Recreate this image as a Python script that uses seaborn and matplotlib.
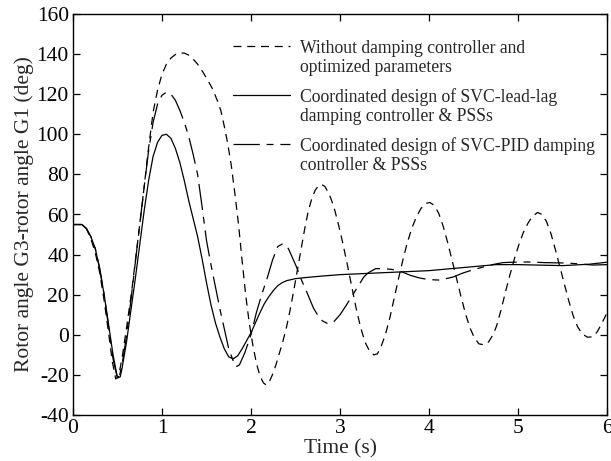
import matplotlib
matplotlib.use("Agg")
import matplotlib.pyplot as plt
import seaborn as sns
import numpy as np
import pandas as pd
from matplotlib.legend_handler import HandlerLine2D

# ---- data ----
t_without = [0.00, 0.10, 0.15, 0.20, 0.25, 0.30, 0.35, 0.40, 0.44, 0.48, 0.51, 0.55, 0.60, 0.66, 0.72,
             0.78, 0.84, 0.90, 0.95, 1.00, 1.05, 1.10, 1.15, 1.20, 1.25, 1.30, 1.35, 1.40, 1.46, 1.52,
             1.57, 1.62, 1.66, 1.70, 1.74, 1.78, 1.82, 1.86, 1.90, 1.94, 1.98, 2.02, 2.06, 2.10, 2.14,
             2.17, 2.20, 2.24, 2.28, 2.32, 2.36, 2.40, 2.44, 2.48, 2.52, 2.56, 2.60, 2.64, 2.68, 2.72,
             2.76, 2.79, 2.83, 2.88, 2.93, 2.98, 3.03, 3.08, 3.13, 3.18, 3.23, 3.28, 3.33, 3.38, 3.42,
             3.46, 3.51, 3.56, 3.61, 3.66, 3.71, 3.76, 3.81, 3.86, 3.91, 3.96, 4.01, 4.06, 4.11, 4.16,
             4.21, 4.26, 4.31, 4.36, 4.41, 4.46, 4.51, 4.56, 4.62, 4.67, 4.72, 4.76, 4.81, 4.86, 4.91,
             4.96, 5.01, 5.06, 5.11, 5.16, 5.22, 5.27, 5.32, 5.37, 5.42, 5.47, 5.52, 5.57, 5.62, 5.67,
             5.72, 5.78, 5.84, 5.89, 5.94, 6.00]
v_without = [55, 55, 53, 48, 41, 31, 17, 1, -13, -22, -21, -12, 3, 22, 44,
             66, 90, 111, 122, 130, 135, 138, 139.8, 140.5, 140.5, 139.5, 137.5, 135, 131, 126.5,
             122.5, 117, 112, 104, 95, 84, 70, 55, 37, 20, 6, -5, -14, -20.5, -24,
             -25, -24, -20, -15, -9, -3, 4, 12.5, 22, 32, 42, 52, 61, 67.5, 72,
             74.5, 75, 74, 70, 64, 55.5, 46, 35.5, 24.5, 13.5, 4, -3.5, -8, -10, -9.5,
             -6, 0, 8.5, 18.5, 28.5, 38, 46.5, 53.5, 59, 63, 65.5, 66, 64.5, 60.5, 54,
             46, 37, 28, 19, 10.5, 3.5, -1.5, -4.5, -5, -3.5, 0, 4.5, 12.5, 21.5, 30,
             38, 45, 51, 55.5, 59, 61, 60, 56.5, 50.5, 42.5, 34, 25.5, 17, 9.5, 4,
             0.5, -1.2, -1, 1.5, 5.5, 11]

t_leadlag = [0.00, 0.10, 0.15, 0.20, 0.25, 0.30, 0.35, 0.40, 0.45, 0.50, 0.53, 0.55, 0.60, 0.65, 0.70,
             0.75, 0.80, 0.85, 0.90, 0.95, 1.00, 1.05, 1.10, 1.15, 1.20, 1.25, 1.30, 1.35, 1.40, 1.45,
             1.50, 1.55, 1.60, 1.65, 1.70, 1.75, 1.80, 1.85, 1.90, 1.95, 2.00, 2.05, 2.10, 2.15, 2.20,
             2.25, 2.30, 2.35, 2.40, 2.50, 2.60, 2.80, 3.00, 3.50, 4.00, 4.50, 4.75, 5.00, 5.50, 5.80,
             6.00]
v_leadlag = [55, 55, 53, 49, 43, 33, 20, 5, -10, -21.5, -21, -17, -4, 12, 28,
             45, 62, 77, 89, 96, 99.5, 100, 98, 93, 86, 77, 67, 58, 49, 38,
             26, 15, 6, -1, -7, -11, -12, -10.5, -7, -3, 1, 6, 11, 15.5, 19,
             22, 24.5, 26, 27, 28, 28.5, 29.3, 30, 31, 32, 34, 35, 35, 34.5, 35.2,
             36.2]

t_pid = [0.00, 0.10, 0.15, 0.20, 0.25, 0.30, 0.35, 0.40, 0.45, 0.50, 0.52, 0.55, 0.60, 0.65, 0.70,
         0.75, 0.80, 0.85, 0.90, 0.95, 1.00, 1.05, 1.10, 1.15, 1.20, 1.25, 1.30, 1.35, 1.40, 1.45,
         1.50, 1.55, 1.60, 1.65, 1.70, 1.75, 1.80, 1.83, 1.87, 1.93, 2.00, 2.06, 2.12, 2.18, 2.24,
         2.30, 2.36, 2.42, 2.51, 2.57, 2.63, 2.70, 2.74, 2.80, 2.87, 2.93, 3.00, 3.06, 3.13, 3.20,
         3.27, 3.32, 3.40, 3.50, 3.60, 3.70, 3.80, 3.90, 4.00, 4.12, 4.27, 4.38, 4.50, 4.69, 4.83,
         5.00, 5.13, 5.30, 5.55, 5.70, 5.84, 6.00]
v_pid = [55, 55, 53, 49, 43, 33, 20, 4, -12, -22, -21, -15, -1, 17, 36,
         55, 74, 92, 106, 115, 119.5, 121, 120, 117, 112, 106, 99, 90, 80, 64,
         47, 35, 24, 13, 3, -7, -13, -16, -15, -9, 0, 11, 20, 28, 37,
         44, 45.5, 43, 34, 27, 21, 13.5, 10.5, 7, 5.4, 6.5, 10, 14, 19, 24,
         29, 31, 33, 33, 32.5, 31.3, 29.5, 28.3, 27.5, 27.3, 28.8, 30.8, 32.5, 34.8, 36,
         36.3, 36.3, 36, 35.8, 35.3, 34.8, 35]

labels = ["Without damping controller and\noptimized parameters",
          "Coordinated design of SVC-lead-lag\ndamping controller & PSSs",
          "Coordinated design of SVC-PID damping\ncontroller & PSSs"]
x_ticks = [0, 1, 2, 3, 4, 5, 6]
y_ticks = [-40, -20, 0, 20, 40, 60, 80, 100, 120, 140, 160]

sns.set_theme(style="ticks")
plt.rcParams["font.family"] = ["Liberation Serif", "DejaVu Serif"]

fig = plt.figure(figsize=(6.11, 4.61), dpi=100)
ax = fig.add_axes([73 / 611, 46 / 461, 534 / 611, 401 / 461])

lw = 0.9
sns.lineplot(x=t_without, y=v_without, ax=ax, color="black", lw=lw, estimator=None,
             linestyle=(0, (6.4, 4.6)))
sns.lineplot(x=t_leadlag, y=v_leadlag, ax=ax, color="black", lw=lw, estimator=None)
sns.lineplot(x=t_pid, y=v_pid, ax=ax, color="black", lw=lw, estimator=None,
             linestyle=(0, (21, 5.5, 5.5, 5.5)))

ax.set_xlim(0, 6)
ax.set_ylim(-40, 160)
ax.set_xticks(x_ticks)
ax.set_yticks(y_ticks)
ax.set_xticklabels([str(v) for v in x_ticks])
ax.set_yticklabels([str(v) for v in y_ticks])
ax.tick_params(direction="in", length=5, width=0.9, top=True, right=True,
               labelsize=15.5, colors="black", pad=3)
for s in ax.spines.values():
    s.set_visible(True)
    s.set_linewidth(1.0)
    s.set_color("black")
ax.set_xlabel("Time (s)", fontsize=15.5, labelpad=1)
ax.set_ylabel("Rotor angle G3-rotor angle G1 (deg)", fontsize=15.5, labelpad=2)


class FirstLineHandler(HandlerLine2D):
    """Place the legend sample level with the first text line."""
    def create_artists(self, legend, orig_handle, xdescent, ydescent, width, height,
                       fontsize, trans):
        arts = super().create_artists(legend, orig_handle, xdescent, ydescent, width,
                                      height, fontsize, trans)
        shift = 0.68 * fontsize
        for a in arts:
            a.set_ydata(np.asarray(a.get_ydata(), dtype=float) + shift)
        return arts


handler_map = {ln: FirstLineHandler() for ln in ax.lines[:3]}
leg = ax.legend(handles=ax.lines[:3], labels=labels, loc="upper left",
                bbox_to_anchor=(0.30, 0.935), frameon=False, fontsize=12.7,
                handlelength=3.2, handletextpad=0.6, labelspacing=0.7,
                borderpad=0, borderaxespad=0, handler_map=handler_map)
for txt in leg.get_texts():
    txt.set_linespacing(1.15)

fig.savefig("out.png", dpi=100)
